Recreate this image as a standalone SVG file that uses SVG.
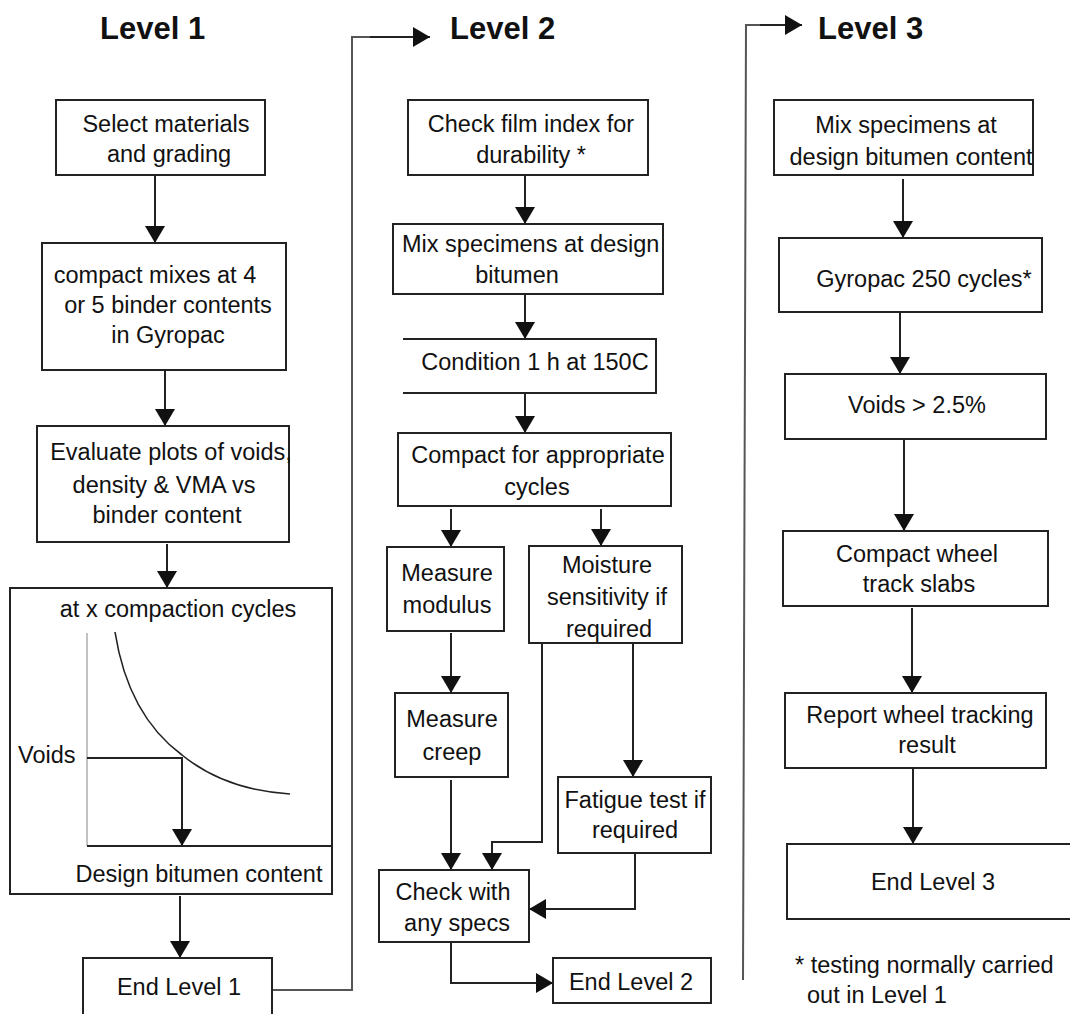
<svg xmlns="http://www.w3.org/2000/svg" width="1070" height="1014" viewBox="0 0 1070 1014">
<style>
  .box { fill: #fff; stroke: #222; stroke-width: 2; }
  .t { font-family: "Liberation Sans", Arial, sans-serif; font-size: 23.5px; fill: #111; text-anchor: middle; }
  .ts { text-anchor: start; }
  .title { font-family: "Liberation Sans", Arial, sans-serif; font-size: 31px; font-weight: bold; fill: #111; }
  .c { fill: none; stroke: #222; stroke-width: 2; }
  .ca { fill: none; stroke: #222; stroke-width: 2; marker-end: url(#ah); }
  .lc { fill: none; stroke: #555; stroke-width: 2; }
</style>
<defs>
  <marker id="ah" markerUnits="userSpaceOnUse" markerWidth="20" markerHeight="22" refX="17" refY="10" orient="auto">
    <path d="M0,0 L17,10 L0,20 z" fill="#111"/>
  </marker>
</defs>
<rect width="1070" height="1014" fill="#fff"/>

<text class="title" x="100" y="39">Level 1</text>
<text class="title" x="450" y="39">Level 2</text>
<text class="title" x="818" y="39">Level 3</text>

<g id="connectors">
  <path class="ca" d="M155,175 V243"/>
  <path class="ca" d="M165,370 V426"/>
  <path class="ca" d="M167,544 V588"/>
  <path class="ca" d="M180,896 V958"/>
  <path class="lc" d="M273,990 H352 V37 H380"/>
  <path class="ca" d="M370,37 H430"/>

  <path class="ca" d="M525,175 V224"/>
  <path class="ca" d="M525,294 V339"/>
  <path class="ca" d="M525,393 V433"/>
  <path class="ca" d="M451,509 V547"/>
  <path class="ca" d="M601,509 V546"/>
  <path class="ca" d="M451,633 V693"/>
  <path class="ca" d="M542,643 V842 H492 V870"/>
  <path class="ca" d="M633,643 V777"/>
  <path class="ca" d="M451,780 V870"/>
  <path class="ca" d="M635,853 V909 H529"/>
  <path class="ca" d="M451,942 V983 H553"/>
  <path class="lc" d="M743,980 L746,25 H770"/>
  <path class="ca" d="M760,25 H802"/>

  <path class="ca" d="M903,179 V238"/>
  <path class="ca" d="M900,312 V374"/>
  <path class="ca" d="M904,439 V531"/>
  <path class="ca" d="M912,608 V693"/>
  <path class="ca" d="M913,768 V844"/>
</g>

<g id="n-select">
  <rect class="box" x="56" y="100" width="209" height="75"/>
  <text class="t" x="166" y="132">Select materials</text>
  <text class="t" x="169" y="162">and grading</text>
</g>
<g id="n-compactmixes">
  <rect class="box" x="42" y="243" width="244" height="127"/>
  <text class="t" x="155" y="283">compact mixes at 4</text>
  <text class="t" x="168" y="313">or 5 binder contents</text>
  <text class="t" x="168" y="343">in Gyropac</text>
</g>
<g id="n-evaluate">
  <rect class="box" x="37" y="426" width="252" height="116"/>
  <text class="t" x="171" y="460">Evaluate plots of voids,</text>
  <text class="t" x="164" y="493">density &amp; VMA vs</text>
  <text class="t" x="167" y="523">binder content</text>
</g>
<g id="n-chart">
  <rect class="box" x="10" y="588" width="322" height="306"/>
  <text class="t" x="178" y="617">at x compaction cycles</text>
  <line x1="87" y1="633" x2="87" y2="846" stroke="#999" stroke-width="1.2"/>
  <line x1="87" y1="846" x2="331" y2="846" stroke="#222" stroke-width="2"/>
  <path d="M115,632 Q128,715 182,755 Q225,790 290,794" fill="none" stroke="#222" stroke-width="1.6"/>
  <path class="ca" d="M87,758 H182 V846"/>
  <text class="t ts" x="18" y="763">Voids</text>
  <text class="t" x="199" y="882">Design bitumen content</text>
</g>
<g id="n-end1">
  <rect class="box" x="83" y="958" width="189" height="80"/>
  <text class="t" x="179" y="995">End Level 1</text>
</g>

<g id="n-film">
  <rect class="box" x="408" y="100" width="240" height="75"/>
  <text class="t" x="531" y="132">Check film index for</text>
  <text class="t" x="531" y="163">durability *</text>
</g>
<g id="n-mix2">
  <rect class="box" x="393" y="224" width="270" height="70"/>
  <text class="t ts" x="402" y="252">Mix specimens at design</text>
  <text class="t" x="517" y="283">bitumen</text>
</g>
<g id="n-condition">
  <path d="M403,339 H656 V393 H403" fill="#fff" stroke="#222" stroke-width="2"/>
  <text class="t" x="535" y="370">Condition 1 h at 150C</text>
</g>
<g id="n-compact2">
  <rect class="box" x="398" y="433" width="273" height="73"/>
  <text class="t" x="538" y="463">Compact for appropriate</text>
  <text class="t" x="537" y="495">cycles</text>
</g>
<g id="n-modulus">
  <rect class="box" x="387" y="547" width="117" height="84"/>
  <text class="t" x="447" y="581">Measure</text>
  <text class="t" x="447" y="613">modulus</text>
</g>
<g id="n-moisture">
  <rect class="box" x="529" y="546" width="153" height="97"/>
  <text class="t" x="607" y="573">Moisture</text>
  <text class="t" x="607" y="605">sensitivity if</text>
  <text class="t" x="609" y="637">required</text>
</g>
<g id="n-creep">
  <rect class="box" x="395" y="693" width="113" height="84"/>
  <text class="t" x="452" y="727">Measure</text>
  <text class="t" x="452" y="760">creep</text>
</g>
<g id="n-fatigue">
  <rect class="box" x="558" y="777" width="153" height="76"/>
  <text class="t" x="635" y="808">Fatigue test if</text>
  <text class="t" x="635" y="838">required</text>
</g>
<g id="n-check">
  <rect class="box" x="379" y="870" width="150" height="72"/>
  <text class="t" x="453" y="900">Check with</text>
  <text class="t" x="457" y="931">any specs</text>
</g>
<g id="n-end2">
  <rect class="box" x="553" y="958" width="158" height="45"/>
  <text class="t" x="631" y="990">End Level 2</text>
</g>

<g id="n-mix3">
  <rect class="box" x="774" y="100" width="259" height="75"/>
  <text class="t" x="906" y="133">Mix specimens at</text>
  <text class="t" x="911" y="165">design bitumen content</text>
</g>
<g id="n-gyro">
  <rect class="box" x="779" y="238" width="263" height="74"/>
  <text class="t" x="924" y="287">Gyropac 250 cycles*</text>
</g>
<g id="n-voids">
  <rect class="box" x="785" y="374" width="261" height="65"/>
  <text class="t" x="917" y="413">Voids &gt; 2.5%</text>
</g>
<g id="n-wheel">
  <rect class="box" x="783" y="531" width="265" height="75"/>
  <text class="t" x="917" y="562">Compact wheel</text>
  <text class="t" x="919" y="592">track slabs</text>
</g>
<g id="n-report">
  <rect class="box" x="785" y="693" width="261" height="75"/>
  <text class="t" x="920" y="723">Report wheel tracking</text>
  <text class="t" x="927" y="753">result</text>
</g>
<g id="n-end3">
  <rect class="box" x="787" y="844" width="300" height="75"/>
  <text class="t" x="933" y="890">End Level 3</text>
</g>
<g id="footnote">
  <text class="t ts" x="795" y="973">* testing normally carried</text>
  <text class="t ts" x="807" y="1003">out in Level 1</text>
</g>
</svg>
